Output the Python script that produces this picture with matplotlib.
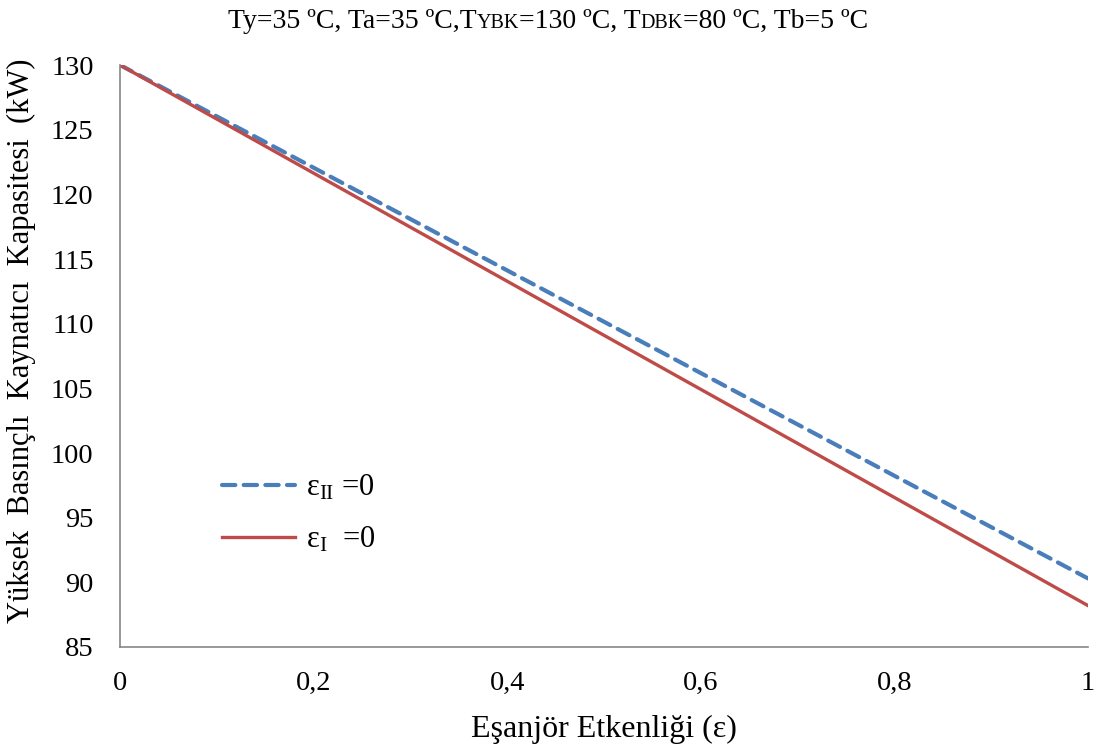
import numpy as np
import matplotlib
matplotlib.use('Agg')
import matplotlib.pyplot as plt

plt.rcParams['font.family'] = ['Liberation Serif', 'DejaVu Serif']
plt.rcParams['mathtext.fontset'] = 'custom'
plt.rcParams['mathtext.rm'] = 'Liberation Serif'
plt.rcParams['mathtext.it'] = 'Liberation Serif:italic'

# data
etkenlik = [0.0, 0.2, 0.4, 0.6, 0.8, 1.0]
eps_II_0 = [130.0, 122.06, 114.12, 106.18, 98.24, 90.3]
eps_I_0 = [130.0, 121.64, 113.28, 104.92, 96.56, 88.2]
x_ticks = [0, 0.2, 0.4, 0.6, 0.8, 1]
x_tick_labels = ['0', '0,2', '0,4', '0,6', '0,8', '1']
y_ticks = [85, 90, 95, 100, 105, 110, 115, 120, 125, 130]

BLUE = '#4a7ebb'
RED = '#be4b48'

fig = plt.figure(figsize=(10.97, 7.51), dpi=100)
ax = fig.add_axes([0.1094, 0.1385, 0.8824, 0.7749])

ax.plot(etkenlik, eps_II_0, color=BLUE, lw=3.0, dashes=(3.2, 2.0),
        dash_capstyle='round', label='ε$_{\\mathregular{II}}$ =0')
ax.plot(etkenlik, eps_I_0, color=RED, lw=2.4, label='ε$_{\\mathregular{I}}$  =0')

ax.set_xlim(0, 1)
ax.set_ylim(85, 130)
ax.set_xticks(x_ticks)
ax.set_xticklabels(x_tick_labels)
ax.set_yticks(y_ticks)
ax.tick_params(length=0, labelsize=20.5)
ax.tick_params(axis='y', pad=19)
ax.tick_params(axis='x', pad=17)
for s in ['top', 'right']:
    ax.spines[s].set_visible(False)
for s in ['left', 'bottom']:
    ax.spines[s].set_color('#868686')
    ax.spines[s].set_linewidth(1.2)

ax.set_xlabel('Eşanjör Etkenliği (ε)', fontsize=23)
ax.xaxis.set_label_coords(0.5, -0.117)
ax.set_ylabel('Yüksek  Basınçlı  Kaynatıcı  Kapasitesi  (kW)', fontsize=22)
ax.yaxis.set_label_coords(-0.087, 0.527)

leg = ax.legend(loc='center left', bbox_to_anchor=(0.105, 0.2285), frameon=False,
                fontsize=22, handlelength=2.4, labelspacing=0.75, handletextpad=0.35,
                borderpad=0, borderaxespad=0)

# title with small-cap style subscripts, drawn piece by piece
pieces = [('Ty=35 ºC, Ta=35 ºC,T', 20), ('YBK', 14.5), ('=130 ºC, T', 20),
          ('DBK', 14.5), ('=80 ºC, Tb=5 ºC', 20)]
fig.canvas.draw()
r = fig.canvas.get_renderer()
texts = []
for s, fs in pieces:
    t = fig.text(0, 0.963, s, fontsize=fs, va='baseline', ha='left')
    texts.append(t)
total = sum(t.get_window_extent(r).width for t in texts)
x0 = 548 - total / 2
for t in texts:
    t.set_x(x0 / fig.bbox.width)
    x0 += t.get_window_extent(r).width

fig.savefig('out.png', dpi=100)
